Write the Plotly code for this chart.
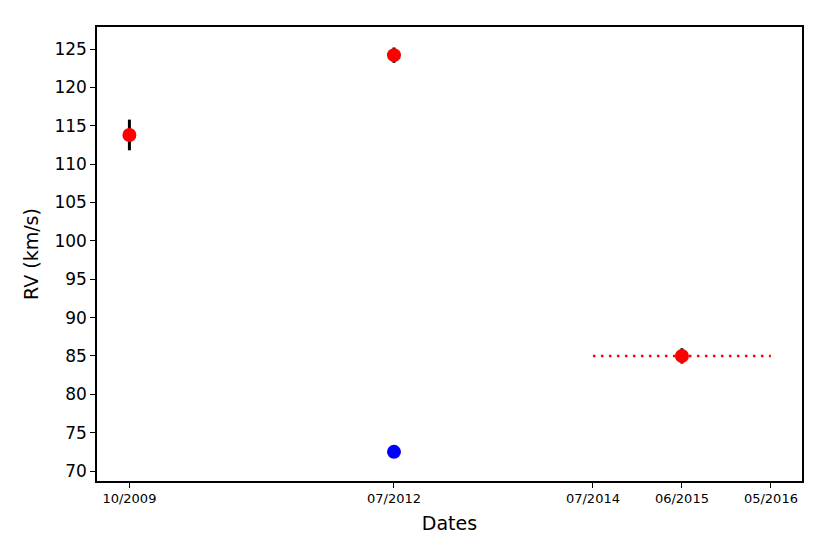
import plotly.graph_objects as go

# observation dates and radial velocities
red_dates = ['2009-09-20', '2012-06-12', '2015-06-01']
red_rv = [113.8, 124.2, 85.0]
red_err = [2.0, 1.0, 1.0]

blue_dates = ['2012-06-12']
blue_rv = [72.5]
blue_err = [0.7]

# dotted range line
span_dates = ['2014-07-01', '2016-05-01']
span_rv = [85.0, 85.0]

tick_dates = ['2009-09-20', '2012-06-12', '2014-07-01', '2015-06-01', '2016-05-01']
tick_labels = ['10/2009', '07/2012', '07/2014', '06/2015', '05/2016']

fig = go.Figure()

fig.add_trace(
    go.Scatter(
        x=span_dates,
        y=span_rv,
        mode='lines',
        line=dict(color='red', width=2.5, dash='2.5px,5.5px'),
        showlegend=False,
    )
)
fig.add_trace(
    go.Scatter(
        x=red_dates,
        y=red_rv,
        mode='markers',
        marker=dict(color='red', size=14),
        error_y=dict(type='data', array=red_err, color='black', thickness=3, width=0),
        showlegend=False,
    )
)
fig.add_trace(
    go.Scatter(
        x=blue_dates,
        y=blue_rv,
        mode='markers',
        marker=dict(color='blue', size=14),
        error_y=dict(type='data', array=blue_err, color='black', thickness=3, width=0),
        showlegend=False,
    )
)

# page body has an 8px margin, so the figure is sized/offset to compensate
fig.update_layout(
    width=814,
    height=538,
    margin=dict(l=89, r=20, t=19, b=65),
    paper_bgcolor='white',
    plot_bgcolor='white',
    font=dict(family='DejaVu Sans', color='black'),
)

fig.update_xaxes(
    type='date',
    range=['2009-05-21', '2016-08-26'],
    tickmode='array',
    tickvals=tick_dates,
    ticktext=tick_labels,
    tickfont=dict(size=13),
    ticks='outside',
    ticklen=5,
    tickwidth=1.2,
    tickcolor='black',
    showline=True,
    linecolor='black',
    linewidth=1.5,
    mirror=True,
    showgrid=False,
    zeroline=False,
    title=dict(text='Dates', font=dict(size=19), standoff=11),
)

fig.update_yaxes(
    range=[68.7, 127.87],
    tickmode='array',
    tickvals=[70, 75, 80, 85, 90, 95, 100, 105, 110, 115, 120, 125],
    tickfont=dict(size=17),
    ticks='outside',
    ticklen=5,
    tickwidth=1.2,
    tickcolor='black',
    showline=True,
    linecolor='black',
    linewidth=1.5,
    mirror=True,
    showgrid=False,
    zeroline=False,
    title=dict(text='RV (km/s)', font=dict(size=19), standoff=11),
)

fig.write_html('out.html')
